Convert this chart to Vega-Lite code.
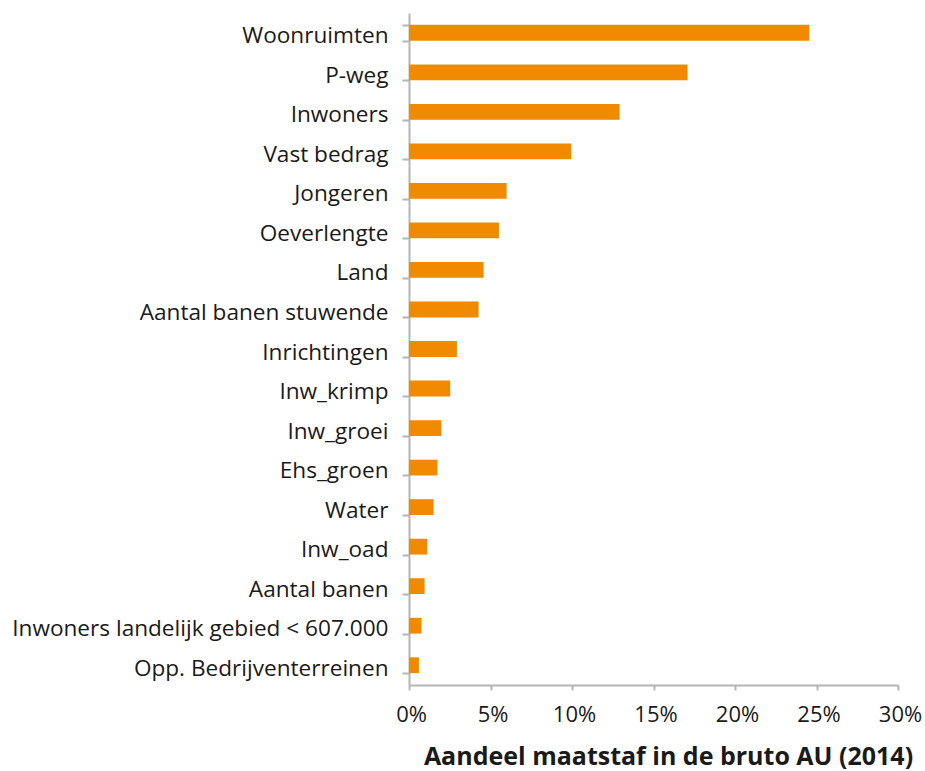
{
  "$schema": "https://vega.github.io/schema/vega-lite/v6.json",
  "width": 489,
  "height": 672,
  "autosize": "none",
  "padding": {"left": 409, "top": 13, "right": 27, "bottom": 86},
  "background": "white",
  "config": {
    "view": {"stroke": null},
    "font": "Open Sans"
  },
  "data": {
    "values": [
      {"maatstaf": "Woonruimten", "aandeel": 0.2456},
      {"maatstaf": "P-weg", "aandeel": 0.1709},
      {"maatstaf": "Inwoners\u00a0", "aandeel": 0.1292},
      {"maatstaf": "Vast bedrag", "aandeel": 0.0996},
      {"maatstaf": "Jongeren", "aandeel": 0.0599},
      {"maatstaf": "Oeverlengte", "aandeel": 0.0552},
      {"maatstaf": "Land", "aandeel": 0.0458},
      {"maatstaf": "Aantal banen stuwende", "aandeel": 0.0427},
      {"maatstaf": "Inrichtingen", "aandeel": 0.0294},
      {"maatstaf": "Inw_krimp\u00a0", "aandeel": 0.0253},
      {"maatstaf": "Inw_groei", "aandeel": 0.0199},
      {"maatstaf": "Ehs_groen", "aandeel": 0.0175},
      {"maatstaf": "Water", "aandeel": 0.0151},
      {"maatstaf": "Inw_oad", "aandeel": 0.0112},
      {"maatstaf": "Aantal banen", "aandeel": 0.0096},
      {"maatstaf": "Inwoners landelijk gebied < 607.000", "aandeel": 0.0077},
      {"maatstaf": "Opp. Bedrijventerreinen", "aandeel": 0.0061}
    ]
  },
  "mark": {"type": "bar", "color": "#f08a00"},
  "encoding": {
    "y": {
      "field": "maatstaf",
      "type": "nominal",
      "sort": null,
      "scale": {"paddingInner": 0.6, "paddingOuter": 0.3},
      "axis": {
        "title": null,
        "tickBand": "extent",
        "tickSize": 7,
        "tickColor": "#b5b5b5",
        "tickWidth": 2,
        "domainColor": "#b5b5b5",
        "domainWidth": 2,
        "labelFontSize": 22.6,
        "labelColor": "#1a1a1a",
        "labelPadding": 14,
        "labelOffset": 3,
        "labelLimit": 0
      }
    },
    "x": {
      "field": "aandeel",
      "type": "quantitative",
      "scale": {"domain": [0, 0.3], "nice": false},
      "axis": {
        "format": ".0%",
        "values": [0, 0.05, 0.1, 0.15, 0.2, 0.25, 0.3],
        "grid": false,
        "tickSize": 5,
        "tickColor": "#b5b5b5",
        "tickWidth": 2,
        "domainColor": "#b5b5b5",
        "domainWidth": 2,
        "labelFontSize": 22,
        "labelColor": "#1a1a1a",
        "labelPadding": 14,
        "labelOffset": 2,
        "labelFlush": false,
        "title": "Aandeel maatstaf in de bruto AU (2014)",
        "titleFontSize": 25,
        "titleFontWeight": "bold",
        "titleColor": "#1a1a1a",
        "titlePadding": 19,
        "titleX": 259
      }
    }
  }
}
